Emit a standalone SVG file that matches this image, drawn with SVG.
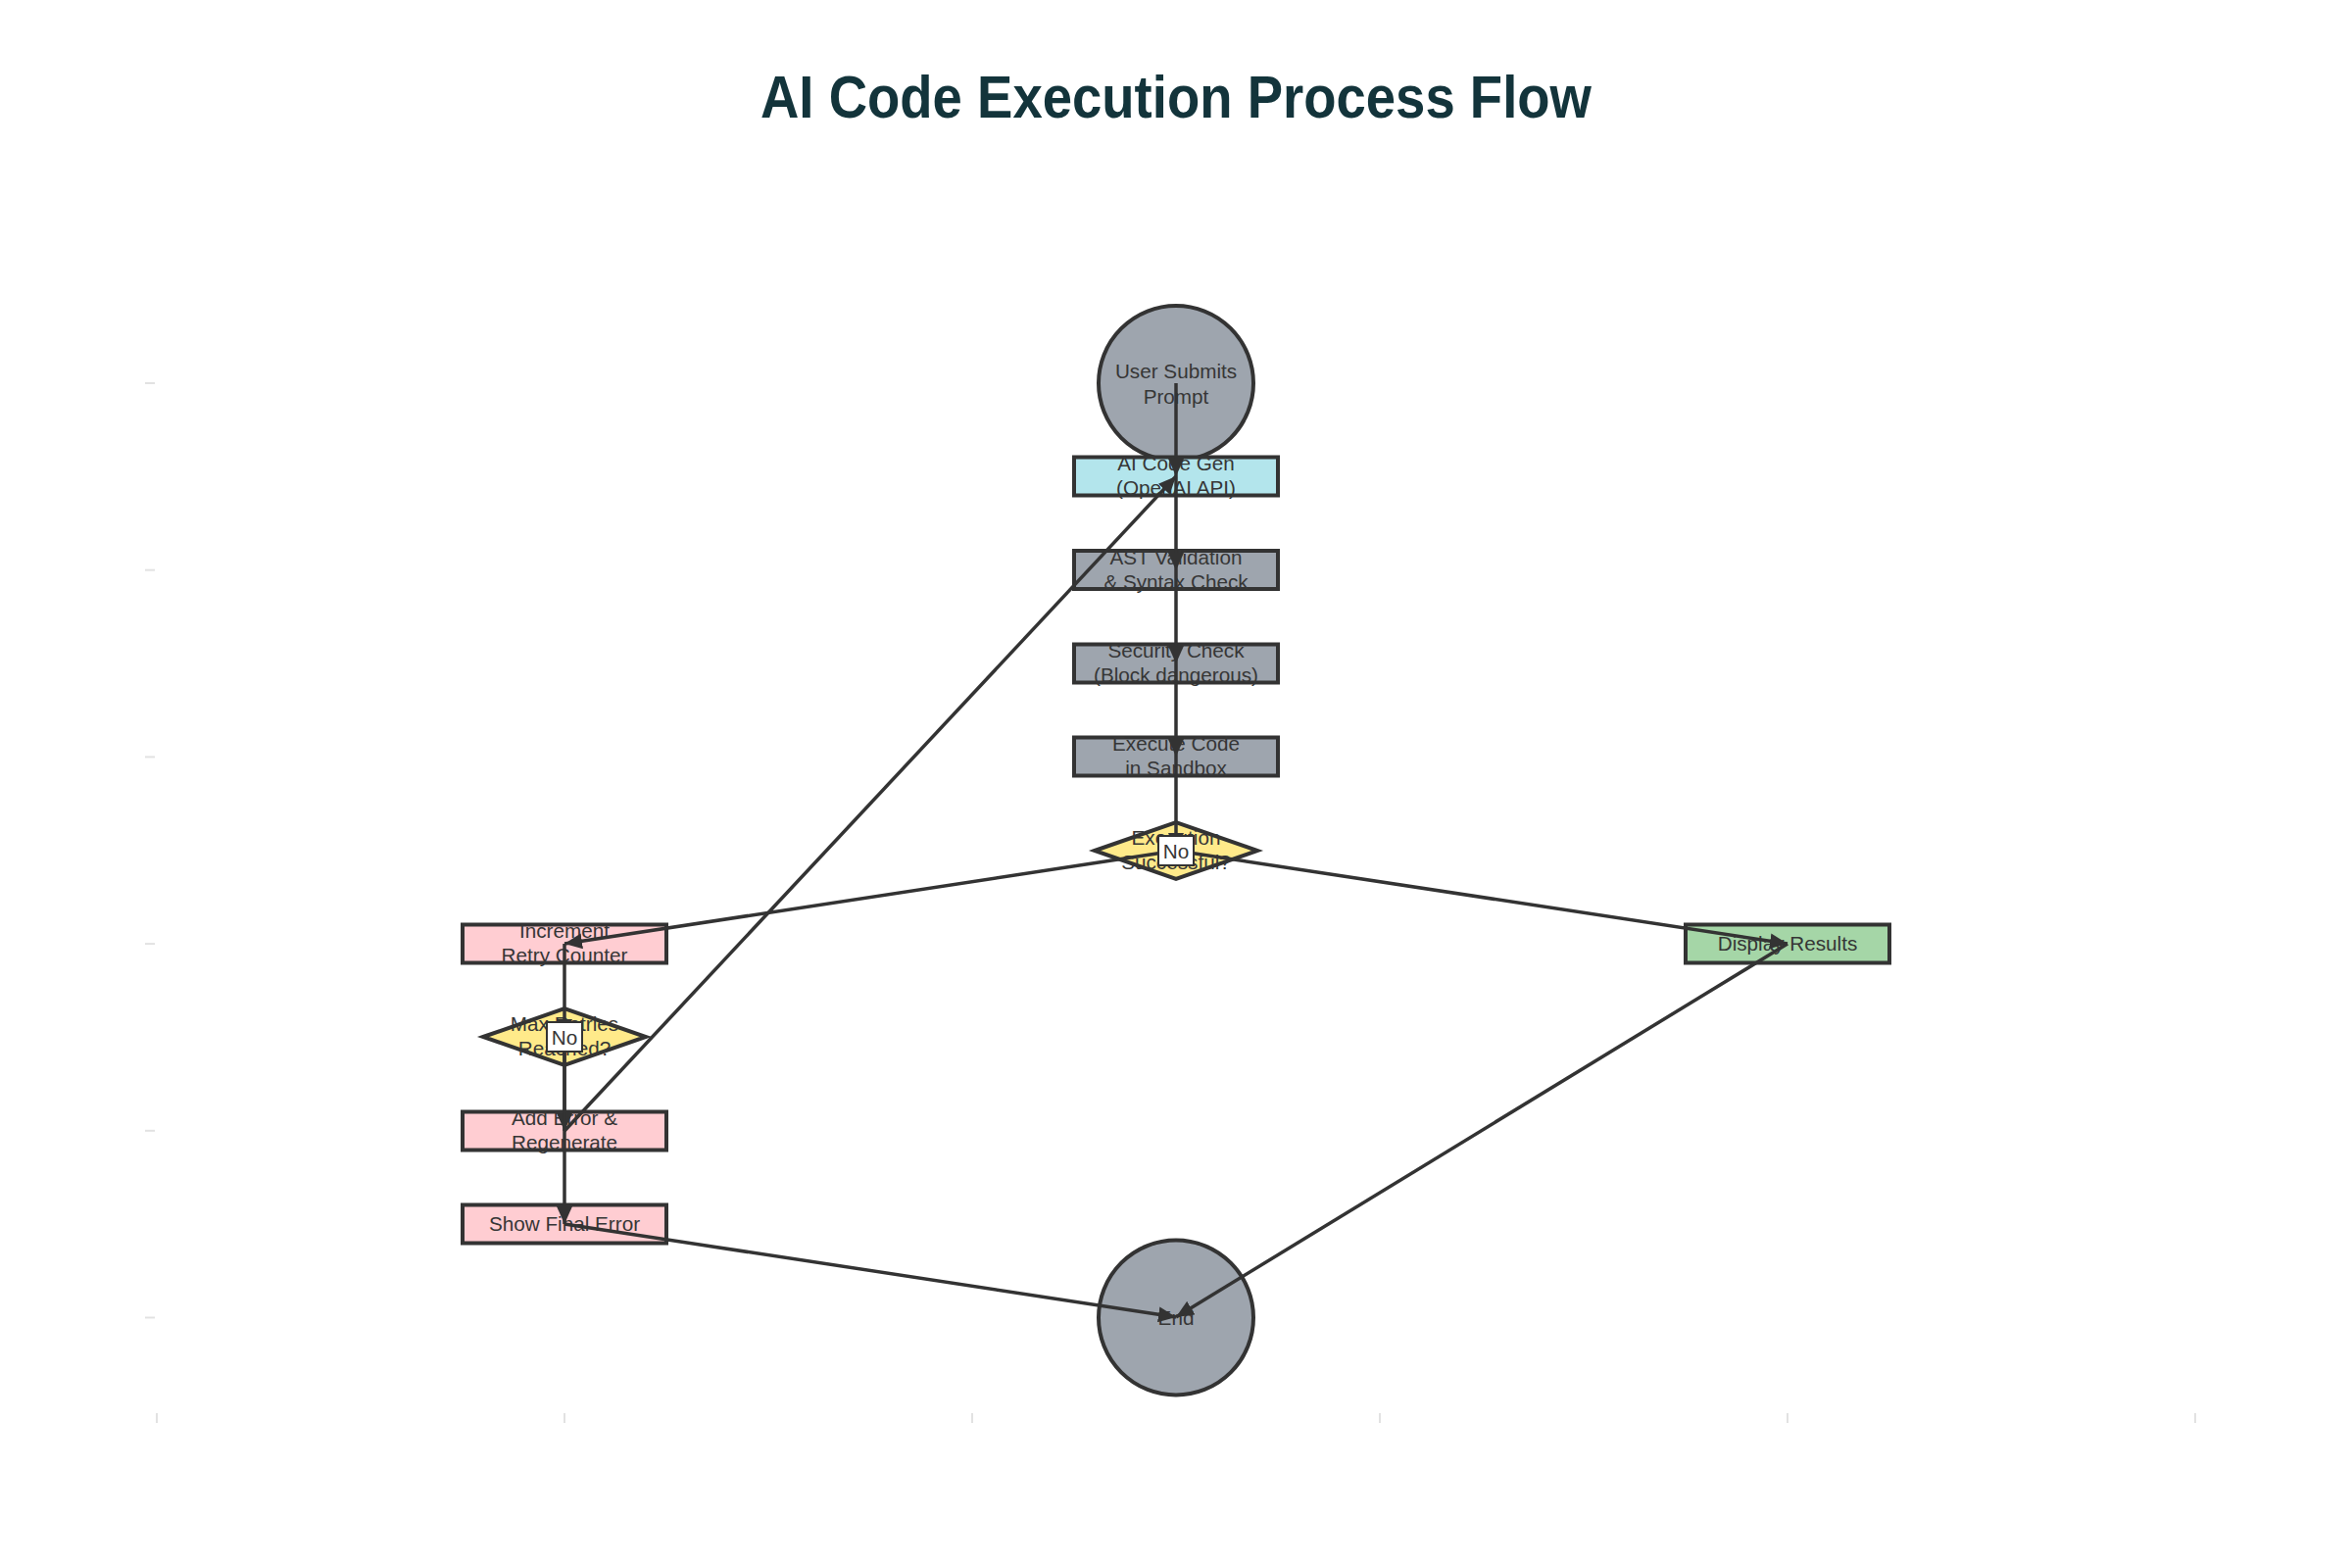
<svg xmlns="http://www.w3.org/2000/svg" width="2400" height="1600" viewBox="0 0 2400 1600">
<defs>
<style>
.title{font-family:"Liberation Sans",Arial,sans-serif;font-weight:bold;font-size:62px;fill:#13343B}
.lbl{font-family:"Liberation Sans",Arial,sans-serif;font-size:20.7px;fill:#363636;text-anchor:middle}
.node{stroke:#333333;stroke-width:4}
.gray{fill:#9EA5AE}
.cyan{fill:#B3E5EC}
.pink{fill:#FFCDD2}
.green{fill:#A5D6A7}
.yellow{fill:#FFEA8A}
.edge{stroke:#333333;stroke-width:3.5;fill:none;marker-end:url(#arr)}
.tick{stroke:#E2E2E2;stroke-width:2}
.tag{fill:#FFFFFF;stroke:#333333;stroke-width:2}
</style>
<marker id="arr" markerUnits="userSpaceOnUse" markerWidth="18" markerHeight="16" viewBox="0 0 18 16" refX="18" refY="8" orient="auto">
<path d="M0,0 L18,8 L0,16 Z" fill="#333333"/>
</marker>
</defs>
<rect width="2400" height="1600" fill="#FFFFFF"/>
<text class="title" x="1200" y="120" text-anchor="middle" textLength="848" lengthAdjust="spacingAndGlyphs">AI Code Execution Process Flow</text>
<g id="axes">
<line class="tick" x1="148" y1="391" x2="158" y2="391"/>
<line class="tick" x1="148" y1="581.7" x2="158" y2="581.7"/>
<line class="tick" x1="148" y1="772.4" x2="158" y2="772.4"/>
<line class="tick" x1="148" y1="963.1" x2="158" y2="963.1"/>
<line class="tick" x1="148" y1="1153.8" x2="158" y2="1153.8"/>
<line class="tick" x1="148" y1="1344.5" x2="158" y2="1344.5"/>
<line class="tick" x1="160" y1="1442" x2="160" y2="1452"/>
<line class="tick" x1="576" y1="1442" x2="576" y2="1452"/>
<line class="tick" x1="992" y1="1442" x2="992" y2="1452"/>
<line class="tick" x1="1408" y1="1442" x2="1408" y2="1452"/>
<line class="tick" x1="1824" y1="1442" x2="1824" y2="1452"/>
<line class="tick" x1="2240" y1="1442" x2="2240" y2="1452"/>
</g>
<g id="n-start"><circle class="node gray" cx="1200" cy="391" r="79"/><text class="lbl"><tspan x="1200" y="386">User Submits</tspan><tspan x="1200" y="412">Prompt</tspan></text></g>
<g id="n-gen"><rect class="node cyan" x="1096" y="466.5" width="208" height="39"/><text class="lbl"><tspan x="1200" y="480">AI Code Gen</tspan><tspan x="1200" y="505">(OpenAI API)</tspan></text></g>
<g id="n-ast"><rect class="node gray" x="1096" y="562" width="208" height="39"/><text class="lbl"><tspan x="1200" y="576">AST Validation</tspan><tspan x="1200" y="601">&amp; Syntax Check</tspan></text></g>
<g id="n-sec"><rect class="node gray" x="1096" y="657.5" width="208" height="39"/><text class="lbl"><tspan x="1200" y="671">Security Check</tspan><tspan x="1200" y="696">(Block dangerous)</tspan></text></g>
<g id="n-exec"><rect class="node gray" x="1096" y="752.5" width="208" height="39"/><text class="lbl"><tspan x="1200" y="766">Execute Code</tspan><tspan x="1200" y="791">in Sandbox</tspan></text></g>
<g id="n-ok"><polygon class="node yellow" points="1117,868 1200,839 1283,868 1200,897"/><text class="lbl"><tspan x="1200" y="862">Execution</tspan><tspan x="1200" y="887">Successful?</tspan></text></g>
<g id="n-inc"><rect class="node pink" x="472" y="943.5" width="208" height="39"/><text class="lbl"><tspan x="576" y="957">Increment</tspan><tspan x="576" y="982">Retry Counter</tspan></text></g>
<g id="n-disp"><rect class="node green" x="1720" y="943.5" width="208" height="39"/><text class="lbl" x="1824" y="970">Display Results</text></g>
<g id="n-max"><polygon class="node yellow" points="493,1058 576,1029 659,1058 576,1087"/><text class="lbl"><tspan x="576" y="1052">Max Retries</tspan><tspan x="576" y="1077">Reached?</tspan></text></g>
<g id="n-add"><rect class="node pink" x="472" y="1134.5" width="208" height="39"/><text class="lbl"><tspan x="576" y="1148">Add Error &amp;</tspan><tspan x="576" y="1173">Regenerate</tspan></text></g>
<g id="n-fail"><rect class="node pink" x="472" y="1229.5" width="208" height="39"/><text class="lbl" x="576" y="1256">Show Final Error</text></g>
<g id="n-end"><circle class="node gray" cx="1200" cy="1344.5" r="79"/><text class="lbl" x="1200" y="1352">End</text></g>
<g id="connectors">
<line class="edge" x1="1200" y1="391" x2="1200" y2="486"/>
<line class="edge" x1="1200" y1="486" x2="1200" y2="582"/>
<line class="edge" x1="1200" y1="582" x2="1200" y2="677"/>
<line class="edge" x1="1200" y1="677" x2="1200" y2="772"/>
<line class="edge" x1="1200" y1="772" x2="1200" y2="868"/>
<line class="edge" x1="1200" y1="868" x2="576" y2="963"/>
<line class="edge" x1="1200" y1="868" x2="1824" y2="963"/>
<line class="edge" x1="576" y1="963" x2="576" y2="1058"/>
<line class="edge" x1="576" y1="1058" x2="576" y2="1154"/>
<line class="edge" x1="576" y1="1058" x2="576" y2="1249"/>
<line class="edge" x1="576" y1="1154" x2="1200" y2="486"/>
<line class="edge" x1="576" y1="1249" x2="1200" y2="1344"/>
<line class="edge" x1="1824" y1="963" x2="1200" y2="1344"/>
</g>
<g id="labels">
<rect class="tag" x="1182" y="853" width="36" height="30"/>
<text class="lbl" x="1200" y="876">No</text>
<rect class="tag" x="558" y="1043" width="36" height="30"/>
<text class="lbl" x="576" y="1066">No</text>
</g>
</svg>
